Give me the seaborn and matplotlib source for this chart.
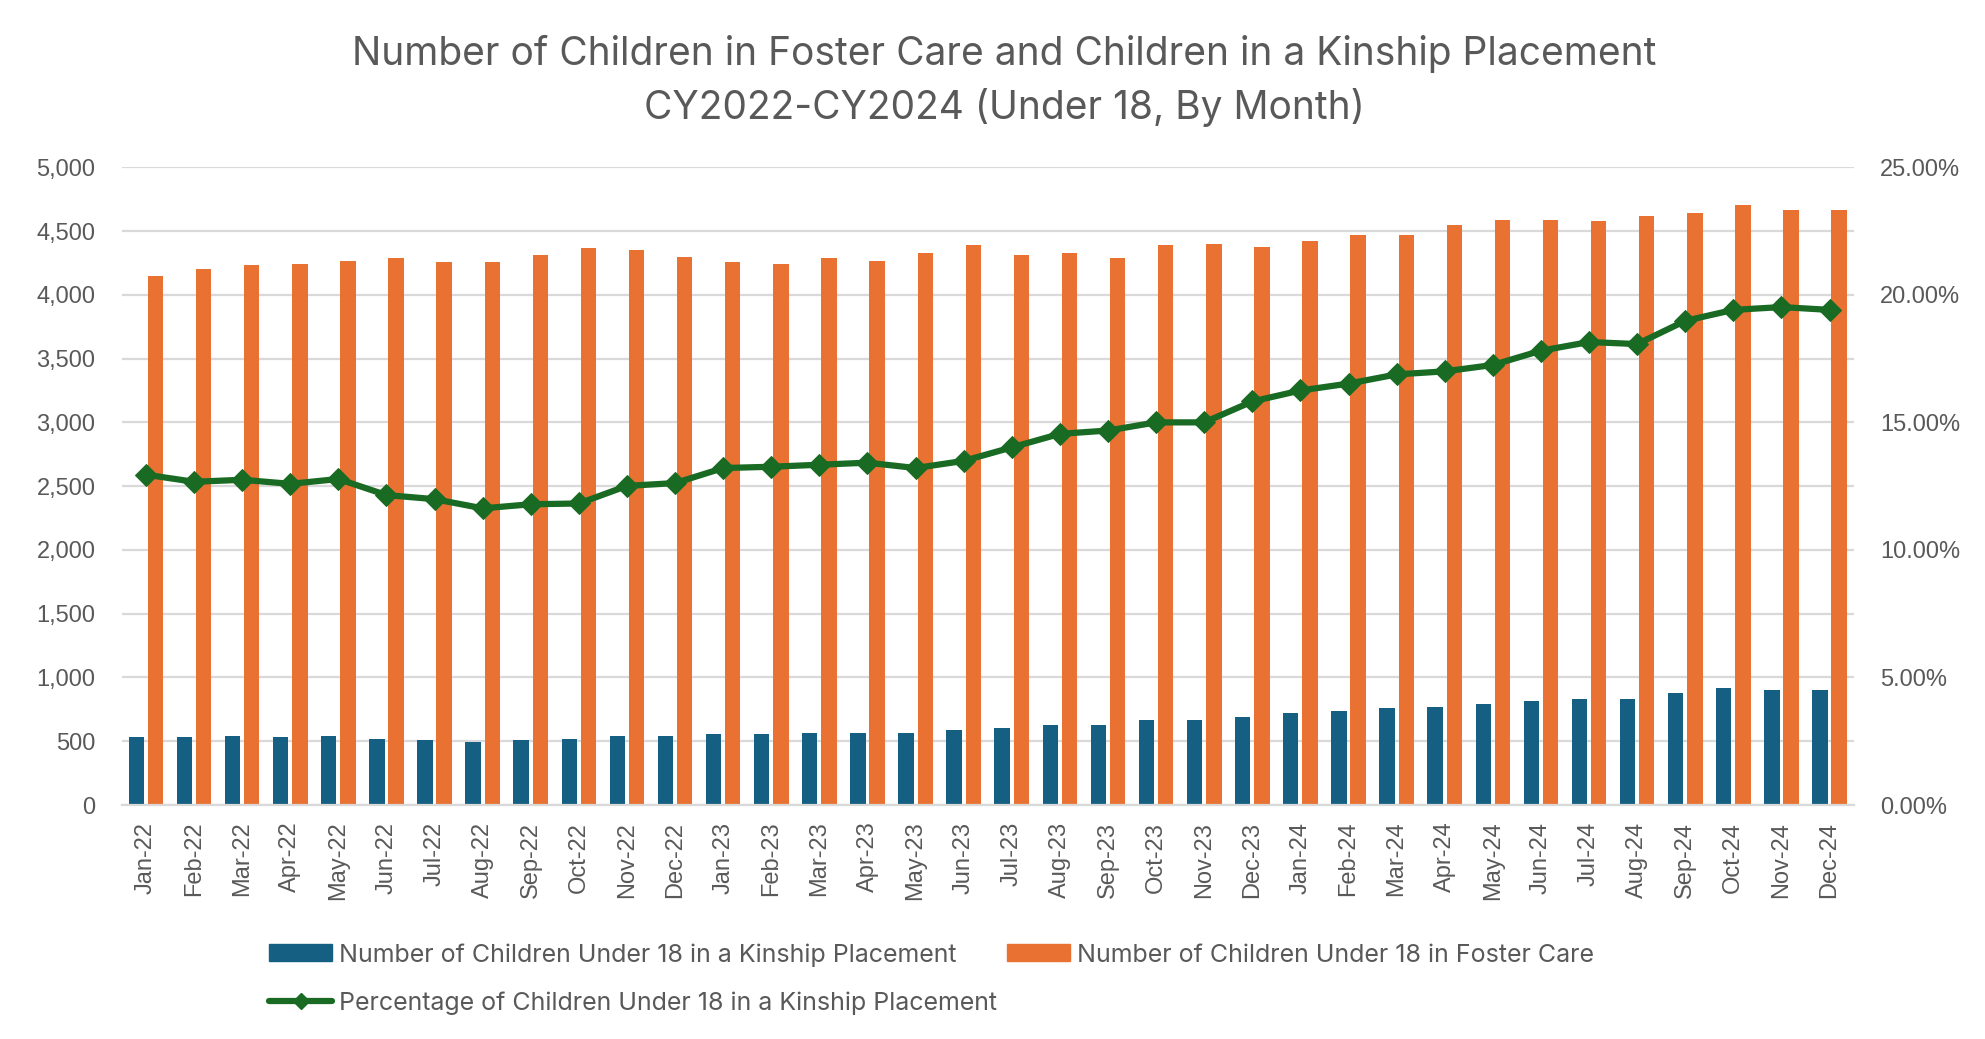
import numpy as np
import pandas as pd
import matplotlib
matplotlib.use("Agg")
import matplotlib.pyplot as plt
import seaborn as sns
from matplotlib.patches import Patch
from matplotlib.lines import Line2D
from matplotlib.ticker import PercentFormatter, StrMethodFormatter, MultipleLocator

# ─── Data ────────────────────────────────────────────────────────────────────
months = ["Jan-22", "Feb-22", "Mar-22", "Apr-22", "May-22", "Jun-22",
          "Jul-22", "Aug-22", "Sep-22", "Oct-22", "Nov-22", "Dec-22",
          "Jan-23", "Feb-23", "Mar-23", "Apr-23", "May-23", "Jun-23",
          "Jul-23", "Aug-23", "Sep-23", "Oct-23", "Nov-23", "Dec-23",
          "Jan-24", "Feb-24", "Mar-24", "Apr-24", "May-24", "Jun-24",
          "Jul-24", "Aug-24", "Sep-24", "Oct-24", "Nov-24", "Dec-24"]

kinship = [530, 530, 540, 530, 540, 518, 508, 494, 508, 518, 540, 540,
           555, 555, 565, 565, 565, 590, 605, 628, 628, 663, 663, 690,
           722, 735, 758, 768, 794, 817, 829, 829, 878, 914, 901, 901]

foster = [4150, 4205, 4230, 4245, 4265, 4290, 4255, 4255, 4315, 4365, 4350, 4300,
          4255, 4245, 4290, 4265, 4330, 4390, 4315, 4330, 4290, 4390, 4400, 4375,
          4425, 4470, 4470, 4545, 4590, 4590, 4580, 4615, 4640, 4705, 4665, 4665]

pct_kinship = [12.95, 12.67, 12.75, 12.59, 12.78, 12.15, 11.99, 11.63, 11.79, 11.82, 12.51, 12.62,
               13.21, 13.26, 13.34, 13.42, 13.21, 13.49, 14.02, 14.55, 14.68, 15.00, 15.00, 15.82,
               16.25, 16.52, 16.88, 17.00, 17.25, 17.81, 18.15, 18.07, 18.98, 19.41, 19.52, 19.41]

LBL_KIN = "Number of Children Under 18 in a Kinship Placement"
LBL_FOS = "Number of Children Under 18 in Foster Care"
LBL_PCT = "Percentage of Children Under 18 in a Kinship Placement"
TITLE = ("Number of Children in Foster Care and Children in a Kinship Placement\n"
         "CY2022-CY2024 (Under 18, By Month)")

BLUE = "#156082"
ORANGE = "#E97132"
GREEN = "#196B24"
TEXT = "#595959"
GRID = "#D9D9D9"

# ─── Plot ────────────────────────────────────────────────────────────────────
sns.set_theme(style="white")
plt.rcParams["font.family"] = ["Liberation Sans", "DejaVu Sans"]

df = pd.DataFrame({
    "month": months * 2,
    "series": [LBL_KIN] * len(months) + [LBL_FOS] * len(months),
    "value": kinship + foster,
})

fig = plt.figure(figsize=(19.85, 10.39), dpi=100)
ax = fig.add_axes([0.0614, 0.2252, 0.9338 - 0.0614, 0.839 - 0.2252])

sns.barplot(data=df, x="month", y="value", hue="series",
            hue_order=[LBL_KIN, LBL_FOS], palette=[BLUE, ORANGE],
            order=months, width=0.8, gap=0.2, saturation=1,
            errorbar=None, linewidth=0, legend=False, ax=ax)

ax.set_ylim(0, 5000)
ax.yaxis.set_major_locator(MultipleLocator(500))
ax.yaxis.set_major_formatter(StrMethodFormatter("{x:,.0f}"))
ax.set_xlim(-0.5, len(months) - 0.5)
ax.set_axisbelow(True)
ax.grid(axis="y", color=GRID, lw=1.6)
ax.set_xlabel("")
ax.set_ylabel("")
for s in ["top", "left", "right"]:
    ax.spines[s].set_visible(False)
ax.spines["bottom"].set_color(GRID)
ax.spines["bottom"].set_linewidth(1.6)
ax.tick_params(axis="y", length=0, pad=19, labelsize=17, labelcolor=TEXT)
ax.tick_params(axis="x", length=0, pad=12, labelsize=17, labelcolor=TEXT,
               labelrotation=90)

ax2 = ax.twinx()
sns.lineplot(x=np.arange(len(months)), y=pct_kinship, ax=ax2, color=GREEN,
             lw=4.5, marker="D", markersize=11, markeredgecolor=GREEN)
ax2.set_ylim(0, 25)
ax2.yaxis.set_major_locator(MultipleLocator(5))
ax2.yaxis.set_major_formatter(PercentFormatter(decimals=2))
ax2.grid(False)
for s in ax2.spines.values():
    s.set_visible(False)
ax2.tick_params(axis="y", length=0, pad=19, labelsize=17, labelcolor=TEXT)

fig.text(0.506, 0.922, TITLE, ha="center", va="center", fontsize=28,
         color=TEXT, family=["Inter", "DejaVu Sans"], linespacing=1.5)

handles = [Patch(color=BLUE),
           Line2D([], [], color=GREEN, lw=4.5, marker="D", markersize=8),
           Patch(color=ORANGE)]
labels = [LBL_KIN, LBL_PCT, LBL_FOS]
fig.legend(handles, labels, loc="center", bbox_to_anchor=(0.4695, 0.0577),
           ncol=2, frameon=False, borderpad=0, handlelength=2.5,
           handleheight=0.65, handletextpad=0.3, columnspacing=0.4,
           labelspacing=1.0,
           prop={"family": ["Inter", "DejaVu Sans"], "size": 18},
           labelcolor=TEXT)

fig.savefig("out.png", dpi=100)
plt.close(fig)
